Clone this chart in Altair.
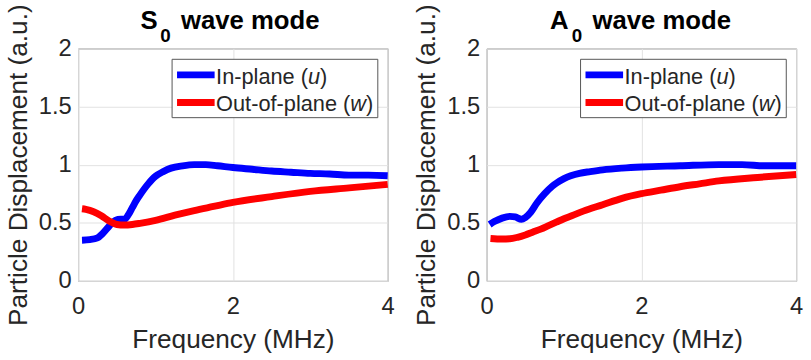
import altair as alt
import pandas as pd

FONT = "Liberation Sans"
INK = "#262626"
FRAME = "#7a7a7a"
W, H = 313, 235

# S0 mode: in-plane (u) and out-of-plane (w) displacement vs frequency (MHz)
s0_u_freq = [0.05, 0.15, 0.25, 0.32, 0.40, 0.48, 0.55, 0.60, 0.65, 0.70, 0.75, 0.80, 0.90,
             1.00, 1.10, 1.20, 1.35, 1.50, 1.65, 1.80, 2.00, 2.25, 2.50, 2.75, 3.00, 3.25,
             3.50, 3.75, 4.00]
s0_u = [0.35, 0.355, 0.37, 0.41, 0.47, 0.52, 0.53, 0.53, 0.57, 0.63, 0.69, 0.74, 0.83,
        0.90, 0.94, 0.97, 0.99, 1.00, 1.00, 0.99, 0.975, 0.96, 0.945, 0.935, 0.925, 0.92,
        0.91, 0.91, 0.905]
s0_w_freq = [0.05, 0.10, 0.20, 0.30, 0.40, 0.50, 0.60, 0.70, 0.80, 1.00, 1.25, 1.50, 1.75,
             2.00, 2.50, 3.00, 3.50, 4.00]
s0_w = [0.62, 0.615, 0.595, 0.56, 0.515, 0.485, 0.48, 0.485, 0.495, 0.52, 0.565, 0.605,
        0.64, 0.675, 0.725, 0.77, 0.80, 0.83]

# A0 mode
a0_u_freq = [0.04, 0.10, 0.20, 0.30, 0.37, 0.45, 0.50, 0.57, 0.65, 0.75, 0.85, 0.90, 1.00,
             1.20, 1.34, 1.50, 1.75, 2.00, 2.50, 3.00, 3.30, 3.60, 4.00]
a0_u = [0.485, 0.51, 0.54, 0.555, 0.55, 0.53, 0.545, 0.59, 0.67, 0.75, 0.815, 0.84, 0.88,
        0.925, 0.94, 0.955, 0.97, 0.98, 0.99, 1.00, 1.00, 0.99, 0.99]
a0_w_freq = [0.05, 0.20, 0.30, 0.40, 0.50, 0.60, 0.70, 0.80, 0.90, 1.00, 1.10, 1.25, 1.50,
             1.75, 2.00, 2.25, 2.50, 2.75, 3.00, 3.50, 4.00]
a0_w = [0.365, 0.36, 0.362, 0.375, 0.395, 0.42, 0.445, 0.475, 0.505, 0.535, 0.56, 0.60,
        0.655, 0.71, 0.75, 0.78, 0.81, 0.835, 0.86, 0.89, 0.915]

x_ticks = [0, 2, 4]
y_ticks = [0, 0.5, 1, 1.5, 2]
series_names = ["u", "w"]
series_colors = ["#0000ff", "#ff0000"]
legend_text = ["In-plane (", "Out-of-plane ("]
legend_symbol = ["u", "w"]

one = pd.DataFrame({"k": [0]})


def frame(freq_u, u, freq_w, w):
    return pd.concat([
        pd.DataFrame({"f": freq_u, "v": u, "s": "u"}),
        pd.DataFrame({"f": freq_w, "v": w, "s": "w"}),
    ], ignore_index=True)


def txt(x, y, s, size, weight="normal", style="normal", align="left"):
    return alt.Chart(one).mark_text(
        font=FONT, fontSize=size, fontWeight=weight, fontStyle=style,
        align=align, baseline="alphabetic", color=INK if weight == "normal" else "#000000",
    ).encode(x=alt.value(x), y=alt.value(y), text=alt.value(s))


def panel(letter, df, lx, zx, wx):
    lines = alt.Chart(df).mark_line(strokeWidth=7, interpolate="monotone").encode(
        x=alt.X("f:Q", scale=alt.Scale(domain=[0, 4], nice=False),
                axis=alt.Axis(values=x_ticks, title="Frequency (MHz)", format="d",
                              labelPadding=14, titlePadding=8)),
        y=alt.Y("v:Q", scale=alt.Scale(domain=[0, 2], nice=False),
                axis=alt.Axis(values=y_ticks, title="Particle Displacement (a.u.)", format=".1~f")),
        color=alt.Color("s:N", scale=alt.Scale(domain=series_names, range=series_colors), legend=None),
    )
    # legend box with line keys and partly italic labels
    box = alt.Chart(one).mark_rect(fill="white", stroke="#555555", strokeWidth=1).encode(
        x=alt.value(95), x2=alt.value(303), y=alt.value(11), y2=alt.value(70))
    keys = []
    for i, (ys, yb) in enumerate([(26.7, 35.7), (54.7, 63.3)]):
        keys.append(alt.Chart(one).mark_rule(strokeWidth=7, color=series_colors[i]).encode(
            x=alt.value(100), x2=alt.value(138), y=alt.value(ys)))
        base_w = [92.93, 135.72][i]
        sym_w = [12.23, 15.88][i]
        keys.append(txt(139.5, yb, legend_text[i], 22))
        keys.append(txt(139.5 + base_w, yb, legend_symbol[i], 22, style="italic"))
        keys.append(txt(139.5 + base_w + sym_w, yb, ")", 22))
    title = [
        txt(lx, -20, letter, 26, weight="bold"),
        txt(zx, -7, "0", 19, weight="bold"),
        txt(wx, -20, "wave mode", 26, weight="bold"),
    ]
    return alt.layer(lines, box, *keys, *title).properties(width=W, height=H)


left = panel("S", frame(s0_u_freq, s0_u, s0_w_freq, s0_w), 63, 83, 104)
right = panel("A", frame(a0_u_freq, a0_u, a0_w_freq, a0_w), 64, 86, 107)

# panels are spaced by their plot areas, so axis text does not shift the second one
chart = alt.hconcat(left, right, spacing=100, bounds="flush").properties(
    padding={"left": 5, "top": 1, "right": 0, "bottom": 0}
).configure_view(
    stroke=FRAME, strokeWidth=1
).configure_axis(
    labelFont=FONT, labelFontSize=24, labelColor=INK, labelPadding=7,
    titleFont=FONT, titleFontSize=26.5, titleFontWeight="normal", titleColor=INK,
    titlePadding=6, grid=True, gridColor="#e2e2e2", gridWidth=1,
    domain=False, ticks=False, labelFlush=False, labelOverlap=False,
)

chart.save("out.html", embed_options={"renderer": "svg", "actions": False})
